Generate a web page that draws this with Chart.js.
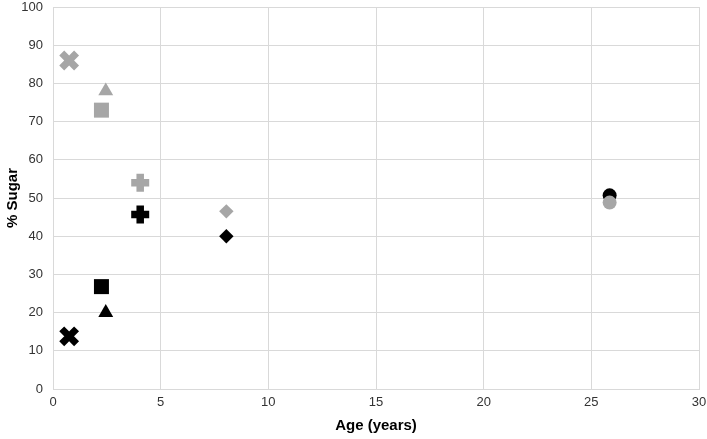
<!DOCTYPE html>
<html>
<head>
<meta charset="utf-8">
<script src="https://cdn.jsdelivr.net/npm/chart.js@4/dist/chart.umd.min.js"></script>
<style>
  html, body { margin: 0; padding: 0; background: #fff; }
  #wrap { width: 707px; height: 439px; }
</style>
</head>
<body>
<div id="wrap"><canvas id="c"></canvas></div>
<script>
  // ages (years) shared by both series, one per marker shape
  const ages = [0.75, 2.25, 2.45, 4.05, 8.05, 25.85];
  const greySugar = [86, 73, 78, 54, 46.5, 48.8];
  const blackSugar = [13.8, 26.8, 20, 45.7, 40, 50.7];
  const xTicks = [0, 5, 10, 15, 20, 25, 30];
  const yTicks = [0, 10, 20, 30, 40, 50, 60, 70, 80, 90, 100];

  // marker look per shape: X, square, triangle, plus, diamond, circle
  const shapes = ["crossRot", "rect", "triangle", "cross", "rectRot", "circle"];
  const radii = [10.5, 10.6, 8.6, 9, 7.2, 7];
  const widths = [7, 0, 0, 7.5, 0, 0];

  const pts = (ys) => ages.map((x, i) => ({ x, y: ys[i] }));
  const series = (ys, color) => ({
    data: pts(ys),
    showLine: false,
    clip: false,
    pointStyle: shapes,
    pointRadius: radii,
    pointHoverRadius: radii,
    pointBorderWidth: widths,
    pointBackgroundColor: color,
    pointBorderColor: color,
  });

  const grid = "#d9d9d9";
  const tickFont = { family: "Liberation Sans, Arial, sans-serif", size: 13 };
  const titleFont = { family: "Liberation Sans, Arial, sans-serif", size: 15, weight: "bold" };

  new Chart(document.getElementById("c"), {
    type: "scatter",
    data: {
      // grey first so it is painted on top of black
      datasets: [series(greySugar, "#a6a6a6"), series(blackSugar, "#000000")],
    },
    options: {
      responsive: true,
      maintainAspectRatio: false,
      animation: false,
      layout: { padding: 0, autoPadding: false },
      plugins: { legend: { display: false }, tooltip: { enabled: false } },
      scales: {
        x: {
          type: "linear", min: 0, max: 30,
          afterBuildTicks: (s) => { s.ticks = xTicks.map((v) => ({ value: v })); },
          afterFit: (s) => { s.height = 50; s.paddingRight = 8; s.paddingLeft = 0; },
          grid: { color: grid, drawTicks: false },
          border: { color: grid },
          ticks: { color: "#333", font: tickFont, padding: 6, maxRotation: 0 },
          title: { display: true, text: "Age (years)", color: "#000", font: titleFont, padding: { top: 4 } },
        },
        y: {
          type: "linear", min: 0, max: 100,
          afterBuildTicks: (s) => { s.ticks = yTicks.map((v) => ({ value: v })); },
          afterFit: (s) => { s.width = 53; s.paddingTop = 7; s.paddingBottom = 0; },
          grid: { color: grid, drawTicks: false },
          border: { color: grid },
          ticks: { color: "#333", font: tickFont, padding: 10 },
          title: { display: true, text: "% Sugar", color: "#000", font: titleFont, padding: { bottom: 2 } },
        },
      },
    },
  });
</script>
</body>
</html>
